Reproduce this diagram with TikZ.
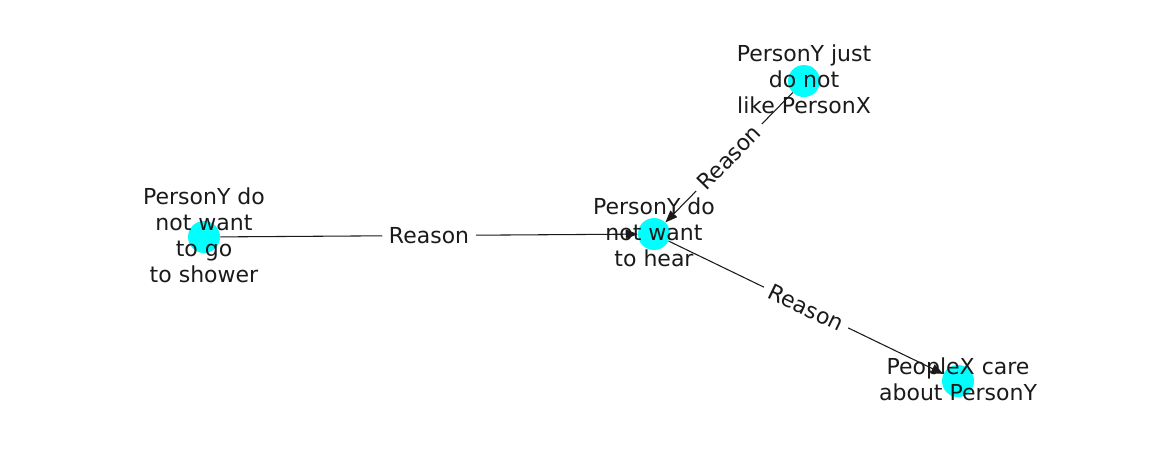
\documentclass[tikz,border=0pt]{standalone}
\usepackage{fontspec}
\setmainfont{DejaVu Sans}
\usetikzlibrary{arrows.meta}
\definecolor{nodecyan}{RGB}{0,255,255}
\definecolor{ink}{RGB}{26,26,26}
\begin{document}
\begin{tikzpicture}[x=0.75pt,y=-0.75pt,
  dot/.style={circle,fill=nodecyan,inner sep=0pt,minimum size=24pt},
  lbl/.style={font=\fontsize{16.5}{19.5}\selectfont,align=center,text=ink},
  edge/.style={draw=ink,line width=0.8pt,-{Triangle[length=9pt,width=7pt]}},
  elbl/.style={font=\fontsize{16.5}{19.5}\selectfont,fill=white,inner xsep=5pt,inner ysep=2pt,sloped,text=ink}]
\useasboundingbox (0,0) rectangle (1162,462);
\node[dot] (l) at (204,237) {};
\node[dot] (m) at (654,234) {};
\node[dot] (t) at (804,81) {};
\node[dot] (b) at (958,381) {};
\draw[edge] (l) -- node[elbl] {Reason} (m);
\draw[edge] (t) -- node[elbl] {Reason} (m);
\draw[edge] (m) -- node[elbl] {Reason} (b);
\node[lbl] (tl) at (204,235) {PersonY do\\not want\\to go\\to shower};
\node[lbl] (tm) at (654,232) {PersonY do\\not want\\to hear};
\node[lbl] (tt) at (804,79) {PersonY just\\do not\\like PersonX};
\node[lbl] (tb) at (958,379) {PeopleX care\\about PersonY};
\end{tikzpicture}
\end{document}
